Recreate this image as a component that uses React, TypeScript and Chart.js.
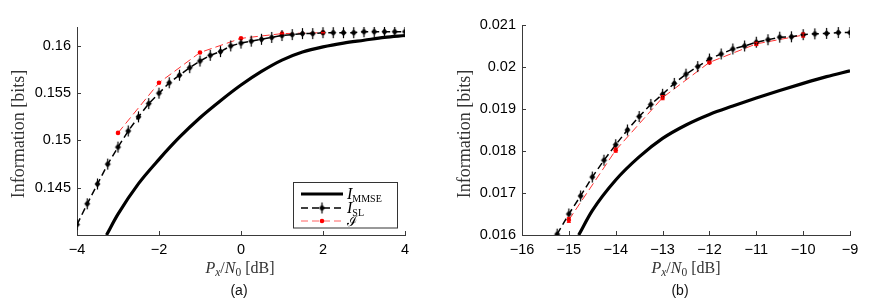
import React, { useEffect, useRef } from "react";
import { Chart, registerables } from "chart.js";
Chart.register(...registerables);

// ---------- Panel (a) data ----------
const xTicksA = [-4, -2, 0, 2, 4];
const yTicksA = [0.145, 0.15, 0.155, 0.16];
const xMmseA = [-3.28, -3, -2.5, -2, -1.5, -1, -0.5, 0, 0.5, 1, 1.5, 2, 2.5, 3, 3.5, 4];
const yMmseA = [0.14, 0.1422, 0.14543, 0.148, 0.15034, 0.1524, 0.1542, 0.15586, 0.1573, 0.1585, 0.15935, 0.1599, 0.1603, 0.1606, 0.1609, 0.1611];
const xSlA = [-4, -3.75, -3.5, -3.25, -3, -2.75, -2.5, -2.25, -2, -1.75, -1.5, -1.25, -1, -0.75, -0.5, -0.25, 0, 0.25, 0.5, 0.75, 1, 1.25, 1.5, 1.75, 2, 2.25, 2.5, 2.75, 3, 3.25, 3.5, 3.75, 4];
const ySlA = [0.1411, 0.1433, 0.1454, 0.1475, 0.1493, 0.151, 0.1525, 0.1539, 0.155, 0.1561, 0.1569, 0.1577, 0.1584, 0.159, 0.1594, 0.16, 0.1603, 0.1605, 0.1607, 0.1609, 0.1611, 0.1612, 0.1613, 0.1613, 0.1614, 0.1614, 0.1614, 0.1614, 0.1615, 0.1615, 0.1615, 0.1615, 0.1615];
const xTildeA = [-3, -2, -1, 0, 1, 2];
const yTildeA = [0.1508, 0.1561, 0.1593, 0.1608, 0.1613, 0.1614];
const errTildeA = [0.00004, 0.00004, 0.00003, 0.00003, 0.00003, 0.00003];

// ---------- Panel (b) data ----------
const xTicksB = [-16, -15, -14, -13, -12, -11, -10, -9];
const yTicksB = [0.016, 0.017, 0.018, 0.019, 0.02, 0.021];
const xMmseB = [-14.79, -14.5, -14, -13.5, -13, -12.5, -12, -11.5, -11, -10.5, -10, -9.5, -9];
const yMmseB = [0.016, 0.01658, 0.01731, 0.01786, 0.0183, 0.01862, 0.01887, 0.01907, 0.01926, 0.01944, 0.01961, 0.01977, 0.01991];
const xSlB = [-15.25, -15, -14.75, -14.5, -14.25, -14, -13.75, -13.5, -13.25, -13, -12.75, -12.5, -12.25, -12, -11.75, -11.5, -11.25, -11, -10.75, -10.5, -10.25, -10, -9.75, -9.5, -9.25, -9];
const ySlB = [0.01602, 0.0165, 0.01693, 0.01738, 0.01778, 0.01815, 0.0185, 0.01882, 0.01911, 0.01935, 0.01961, 0.01983, 0.02001, 0.02019, 0.02031, 0.02043, 0.0205, 0.02059, 0.02065, 0.02071, 0.02072, 0.02077, 0.02079, 0.0208, 0.02082, 0.02082];
const xTildeB = [-15, -14, -13, -12, -11, -10];
const yTildeB = [0.01636, 0.01802, 0.01927, 0.02011, 0.02055, 0.02076];
const errTildeB = [0.00006, 0.00005, 0.00005, 0.00003, 0.00004, 0.00005];

const AXIS = "#3a3a3a";
const SERIF = "'Liberation Serif', 'Times New Roman', serif";
const SANS = "'Liberation Sans', Arial, sans-serif";

function diamondMarker(color: string) {
  const c = document.createElement("canvas");
  c.width = 9;
  c.height = 13;
  const g = c.getContext("2d")!;
  g.strokeStyle = color;
  g.lineWidth = 1.2;
  g.beginPath();
  g.moveTo(4.5, 1);
  g.lineTo(4.5, 12);
  g.stroke();
  g.fillStyle = color;
  g.beginPath();
  g.moveTo(4.5, 3);
  g.lineTo(7.5, 6.5);
  g.lineTo(4.5, 10);
  g.lineTo(1.5, 6.5);
  g.closePath();
  g.fill();
  return c;
}

type Run = { t: string; font: string; dy?: number };
function drawRuns(ctx: CanvasRenderingContext2D, runs: Run[], x: number, y: number, align: "left" | "center") {
  ctx.save();
  ctx.textBaseline = "alphabetic";
  ctx.textAlign = "left";
  let total = 0;
  const widths = runs.map((r) => {
    ctx.font = r.font;
    const w = ctx.measureText(r.t).width;
    total += w;
    return w;
  });
  let cx = align === "center" ? x - total / 2 : x;
  runs.forEach((r, i) => {
    ctx.font = r.font;
    ctx.fillText(r.t, cx, y + (r.dy || 0));
    cx += widths[i];
  });
  ctx.restore();
}

const fmtTick = (v: number) => {
  const s = String(Number(v.toFixed(5)));
  return s.replace("-", "\u2212");
};

type PanelCfg = {
  xMin: number; xMax: number; yMin: number; yMax: number;
  xTicks: number[]; yTicks: number[];
  xMmse: number[]; yMmse: number[];
  xSl: number[]; ySl: number[];
  xTilde: number[]; yTilde: number[]; errTilde: number[];
  yAxisWidth: number; padRight: number; padTop: number;
  xTitleX: number; yTitleX: number; label: string; labelX: number;
  legend: boolean;
};

function makeChart(canvas: HTMLCanvasElement, p: PanelCfg) {
  const marker = diamondMarker("#000");
  const pts = (xs: number[], ys: number[]) => xs.map((x, i) => ({ x, y: ys[i] }));

  const decorPlugin = {
    id: "decor",
    afterDatasetsDraw(chart: any) {
      const ctx: CanvasRenderingContext2D = chart.ctx;
      const xs = chart.scales.x;
      const ys = chart.scales.y;
      const area = chart.chartArea;
      // error bars for the tilde series
      const ds = chart.data.datasets[2];
      ctx.save();
      ctx.strokeStyle = "#ff0000";
      ctx.lineWidth = 1;
      ds.data.forEach((d: any, i: number) => {
        const e = ds.errors[i];
        const px = xs.getPixelForValue(d.x);
        const y1 = ys.getPixelForValue(d.y - e);
        const y2 = ys.getPixelForValue(d.y + e);
        ctx.beginPath();
        ctx.moveTo(px, y1);
        ctx.lineTo(px, y2);
        ctx.moveTo(px - 2, y1);
        ctx.lineTo(px + 2, y1);
        ctx.moveTo(px - 2, y2);
        ctx.lineTo(px + 2, y2);
        ctx.stroke();
      });
      ctx.restore();

      // inward ticks
      ctx.save();
      ctx.strokeStyle = AXIS;
      ctx.lineWidth = 1;
      ctx.beginPath();
      p.xTicks.forEach((v) => {
        const px = Math.round(xs.getPixelForValue(v)) + 0.5;
        ctx.moveTo(px, area.bottom);
        ctx.lineTo(px, area.bottom - 4);
      });
      p.yTicks.forEach((v) => {
        const py = Math.round(ys.getPixelForValue(v)) + 0.5;
        ctx.moveTo(area.left, py);
        ctx.lineTo(area.left + 4, py);
      });
      ctx.stroke();
      ctx.restore();

      // titles
      ctx.save();
      ctx.fillStyle = "#333";
      drawRuns(ctx, [
        { t: "P", font: `italic 16px ${SERIF}` },
        { t: "x", font: `italic 11.5px ${SERIF}`, dy: 3 },
        { t: "/", font: `16px ${SERIF}` },
        { t: "N", font: `italic 16px ${SERIF}` },
        { t: "0", font: `11.5px ${SERIF}`, dy: 3 },
        { t: " [dB]", font: `16px ${SERIF}` },
      ], p.xTitleX, 273, "center");
      ctx.translate(p.yTitleX, 134);
      ctx.rotate(-Math.PI / 2);
      ctx.font = `18px ${SERIF}`;
      ctx.textAlign = "center";
      ctx.textBaseline = "middle";
      ctx.fillText("Information [bits]", 0, 0);
      ctx.restore();

      ctx.save();
      ctx.fillStyle = "#111";
      ctx.font = `14px ${SANS}`;
      ctx.textAlign = "center";
      ctx.textBaseline = "middle";
      ctx.fillText(p.label, p.labelX, 291);
      ctx.restore();

      if (p.legend) {
        const L = 293.5, T = 182.5, W = 104, H = 45.5;
        ctx.save();
        ctx.fillStyle = "#fff";
        ctx.fillRect(L, T, W, H);
        ctx.strokeStyle = "#333";
        ctx.lineWidth = 1;
        ctx.strokeRect(L, T, W, H);
        const rows = [194, 208, 221];
        const x0 = 301, x1 = 343;
        ctx.strokeStyle = "#000";
        ctx.lineWidth = 3;
        ctx.beginPath();
        ctx.moveTo(x0, rows[0]);
        ctx.lineTo(x1, rows[0]);
        ctx.stroke();
        ctx.lineWidth = 1.5;
        ctx.setLineDash([7, 4]);
        ctx.beginPath();
        ctx.moveTo(x0, rows[1]);
        ctx.lineTo(x1, rows[1]);
        ctx.stroke();
        ctx.drawImage(marker, (x0 + x1) / 2 - 4.5, rows[1] - 6.5);
        ctx.strokeStyle = "#ff6060";
        ctx.lineWidth = 1;
        ctx.setLineDash([7, 4]);
        ctx.beginPath();
        ctx.moveTo(x0, rows[2]);
        ctx.lineTo(x1, rows[2]);
        ctx.stroke();
        ctx.setLineDash([]);
        ctx.fillStyle = "#ff0000";
        ctx.beginPath();
        ctx.arc((x0 + x1) / 2, rows[2], 2.3, 0, Math.PI * 2);
        ctx.fill();
        ctx.fillStyle = "#000";
        drawRuns(ctx, [
          { t: "I", font: `italic 16px ${SERIF}` },
          { t: "MMSE", font: `10px ${SERIF}`, dy: 3 },
        ], 347, rows[0] + 5, "left");
        drawRuns(ctx, [
          { t: "I", font: `italic 16px ${SERIF}` },
          { t: "SL", font: `10px ${SERIF}`, dy: 3 },
        ], 347, rows[1] + 5, "left");
        drawRuns(ctx, [
          { t: "\u2110", font: `14px 'DejaVu Serif', ${SERIF}` },
        ], 347, rows[2] + 5, "left");
        ctx.restore();
      }
    },
  };

  return new Chart(canvas, {
    type: "line",
    data: {
      datasets: [
        {
          label: "I_MMSE",
          data: pts(p.xMmse, p.yMmse),
          borderColor: "#000",
          borderWidth: 3.2,
          pointRadius: 0,
          cubicInterpolationMode: "monotone",
          fill: false,
        },
        {
          label: "I_SL",
          data: pts(p.xSl, p.ySl),
          borderColor: "#000",
          borderWidth: 1.5,
          borderDash: [7, 4],
          pointStyle: marker as any,
          pointRadius: 4,
          tension: 0,
          fill: false,
        },
        {
          label: "I tilde",
          data: pts(p.xTilde, p.yTilde),
          errors: p.errTilde,
          borderColor: "#ff3030",
          borderWidth: 1,
          borderDash: [8, 4],
          pointStyle: "circle",
          pointRadius: 2.3,
          pointBackgroundColor: "#ff0000",
          pointBorderColor: "#ff0000",
          pointBorderWidth: 0,
          tension: 0,
          fill: false,
        } as any,
      ],
    },
    options: {
      animation: false,
      responsive: false,
      maintainAspectRatio: false,
      devicePixelRatio: 1,
      events: [],
      layout: { padding: { left: 0, right: p.padRight, top: p.padTop, bottom: 0 } },
      plugins: { legend: { display: false }, tooltip: { enabled: false }, title: { display: false } },
      scales: {
        x: {
          type: "linear",
          min: p.xMin,
          max: p.xMax,
          afterBuildTicks: (s: any) => { s.ticks = p.xTicks.map((v) => ({ value: v })); },
          afterFit: (s: any) => { s.height = 70; },
          grid: { display: false, drawTicks: false },
          border: { display: true, color: AXIS, width: 1 },
          ticks: {
            padding: 6,
            color: "#000",
            font: { family: SANS, size: 14.5 },
            callback: (v: any) => fmtTick(Number(v)),
            maxRotation: 0,
            autoSkip: false,
          },
        },
        y: {
          type: "linear",
          min: p.yMin,
          max: p.yMax,
          afterBuildTicks: (s: any) => { s.ticks = p.yTicks.map((v) => ({ value: v })); },
          afterFit: (s: any) => { s.width = p.yAxisWidth; },
          grid: { display: false, drawTicks: false },
          border: { display: true, color: AXIS, width: 1 },
          ticks: {
            padding: 6,
            color: "#000",
            font: { family: SANS, size: 14.5 },
            callback: (v: any) => fmtTick(Number(v)),
            autoSkip: false,
          },
        },
      },
    },
    plugins: [decorPlugin as any],
  } as any);
}

const panelA: PanelCfg = {
  xMin: -4, xMax: 4, yMin: 0.14, yMax: 0.162,
  xTicks: xTicksA, yTicks: yTicksA,
  xMmse: xMmseA, yMmse: yMmseA,
  xSl: xSlA, ySl: ySlA,
  xTilde: xTildeA, yTilde: yTildeA, errTilde: errTildeA,
  yAxisWidth: 77, padRight: 31, padTop: 27,
  xTitleX: 240, yTitleX: 19, label: "(a)", labelX: 239,
  legend: true,
};

const panelB: PanelCfg = {
  xMin: -16, xMax: -9, yMin: 0.016, yMax: 0.021,
  xTicks: xTicksB, yTicks: yTicksB,
  xMmse: xMmseB, yMmse: yMmseB,
  xSl: xSlB, ySl: ySlB,
  xTilde: xTildeB, yTilde: yTildeB, errTilde: errTildeB,
  yAxisWidth: 86, padRight: 22, padTop: 25,
  xTitleX: 250, yTitleX: 29, label: "(b)", labelX: 244,
  legend: false,
};

export default function App() {
  const refA = useRef<HTMLCanvasElement>(null);
  const refB = useRef<HTMLCanvasElement>(null);
  useEffect(() => {
    const a = makeChart(refA.current!, panelA);
    const b = makeChart(refB.current!, panelB);
    return () => {
      a.destroy();
      b.destroy();
    };
  }, []);
  return (
    <div style={{ position: "fixed", left: 0, top: 0, width: 872, height: 305, background: "#fff" }}>
      <canvas ref={refA} width={436} height={305} style={{ position: "absolute", left: 0, top: 0, width: 436, height: 305 }} />
      <canvas ref={refB} width={436} height={305} style={{ position: "absolute", left: 436, top: 0, width: 436, height: 305 }} />
    </div>
  );
}
